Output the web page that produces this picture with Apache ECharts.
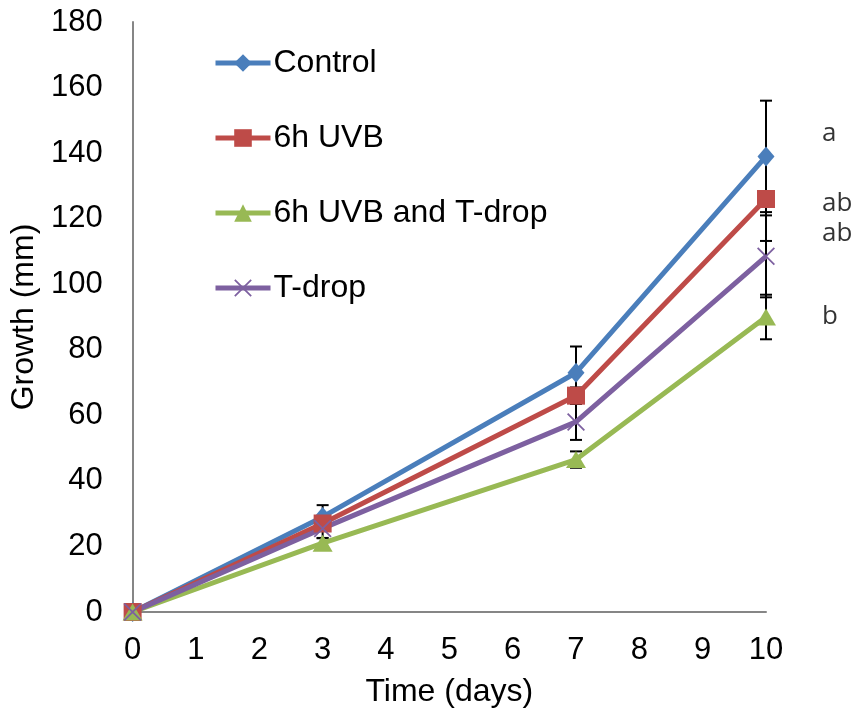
<!DOCTYPE html>
<html>
<head>
<meta charset="utf-8">
<script src="https://cdn.jsdelivr.net/npm/echarts@6/dist/echarts.min.js"></script>
<style>
  html, body { margin: 0; padding: 0; background: #fff; }
  #chart { width: 853px; height: 715px; }
</style>
</head>
<body>
<div id="chart"></div>
<script>
// Sampling days
const days = [0, 3, 7, 10];

// Mean growth (mm) per treatment
const controlMean = [0, 29, 73, 139];
const uvbMean = [0, 27, 66, 126];
const uvbTdropMean = [0, 21, 46.5, 90];
const tdropMean = [0, 25.5, 58, 108.5];

// Error (± mm) per treatment
const controlErr = [0, 3.6, 8, 17];
const uvbErr = [0, 2, 2.5, 12.8];
const uvbTdropErr = [0, 1.6, 2.5, 6.8];
const tdropErr = [0, 3, 5.5, 12.5];

// Significance letters at day 10
const letterText = ['a', 'ab', 'ab', 'b'];
const letterY = [146, 124.5, 115.5, 90];

const seriesNames = ['Control', '6h UVB', '6h UVB and T-drop', 'T-drop'];
const colors = ['#4A7EBB', '#BE4B48', '#98B954', '#7D60A0'];
const FONT = "'Liberation Sans', Arial, sans-serif";

const xSymbol = 'path://M0,0.7 L0.7,0 L10,9.3 L9.3,10 Z M9.3,0 L10,0.7 L0.7,10 L0,9.3 Z';

function pairs(xs, ys) { return xs.map((x, i) => [x, ys[i]]); }
function errData(xs, m, e) { return xs.map((x, i) => [x, m[i] - e[i], m[i] + e[i]]); }

function lineSeries(name, values, color, symbol, size) {
  return {
    name: name,
    type: 'line',
    data: pairs(days, values),
    symbol: symbol,
    symbolSize: size,
    showAllSymbol: true,
    lineStyle: { color: color, width: 5 },
    itemStyle: { color: color },
    z: 3,
    animation: false
  };
}

function errorSeries(means, errs) {
  return {
    type: 'custom',
    data: errData(days, means, errs),
    z: 2,
    silent: true,
    animation: false,
    renderItem: function (params, api) {
      const x = api.value(0);
      const lo = api.coord([x, api.value(1)]);
      const hi = api.coord([x, api.value(2)]);
      const cap = 6;
      const st = { stroke: '#000', lineWidth: 2 };
      return {
        type: 'group',
        children: [
          { type: 'line', shape: { x1: hi[0], y1: hi[1], x2: lo[0], y2: lo[1] }, style: st },
          { type: 'line', shape: { x1: hi[0] - cap, y1: hi[1], x2: hi[0] + cap, y2: hi[1] }, style: st },
          { type: 'line', shape: { x1: lo[0] - cap, y1: lo[1], x2: lo[0] + cap, y2: lo[1] }, style: st }
        ]
      };
    }
  };
}

const chart = echarts.init(document.getElementById('chart'));
chart.setOption({
  backgroundColor: '#fff',
  animation: false,
  textStyle: { fontFamily: FONT },
  grid: { left: 132, right: 87, top: 22, bottom: 103 },
  legend: {
    data: seriesNames,
    orient: 'vertical',
    left: 213,
    top: 47,
    padding: 0,
    itemWidth: 55,
    itemHeight: 22,
    itemGap: 43,
    lineStyle: { width: 5 },
    textStyle: { fontFamily: FONT, fontSize: 32, lineHeight: 32, color: '#000', padding: [0, 0, 0, -2] }
  },
  xAxis: {
    type: 'value',
    min: 0, max: 10, interval: 1,
    name: 'Time (days)',
    nameLocation: 'middle',
    nameGap: 64,
    nameTextStyle: { fontFamily: FONT, fontSize: 32, color: '#000' },
    axisLine: { lineStyle: { color: '#868686', width: 2 } },
    axisTick: { show: false },
    splitLine: { show: false },
    axisLabel: { fontFamily: FONT, fontSize: 31, color: '#000', margin: 23 }
  },
  yAxis: {
    type: 'value',
    min: 0, max: 180, interval: 20,
    name: 'Growth (mm)',
    nameLocation: 'middle',
    nameGap: 88,
    nameTextStyle: { fontFamily: FONT, fontSize: 32, color: '#000' },
    axisLine: { show: true, lineStyle: { color: '#868686', width: 2 } },
    axisTick: { show: false },
    splitLine: { show: false },
    axisLabel: { fontFamily: FONT, fontSize: 31, color: '#000', margin: 30 }
  },
  series: [
    errorSeries(controlMean, controlErr),
    errorSeries(uvbMean, uvbErr),
    errorSeries(uvbTdropMean, uvbTdropErr),
    errorSeries(tdropMean, tdropErr),
    lineSeries(seriesNames[0], controlMean, colors[0], 'diamond', [17, 20]),
    lineSeries(seriesNames[1], uvbMean, colors[1], 'rect', 18),
    lineSeries(seriesNames[2], uvbTdropMean, colors[2], 'triangle', [20, 17]),
    lineSeries(seriesNames[3], tdropMean, colors[3], xSymbol, 18),
    {
      type: 'scatter',
      data: letterY.map((y, i) => [10, y, letterText[i]]),
      symbolSize: 0,
      silent: true,
      z: 4,
      label: {
        show: true,
        position: 'right',
        distance: 56,
        formatter: p => p.value[2],
        fontFamily: "'Open Sans', sans-serif",
        fontSize: 26,
        color: '#000'
      }
    }
  ]
});
</script>
</body>
</html>
